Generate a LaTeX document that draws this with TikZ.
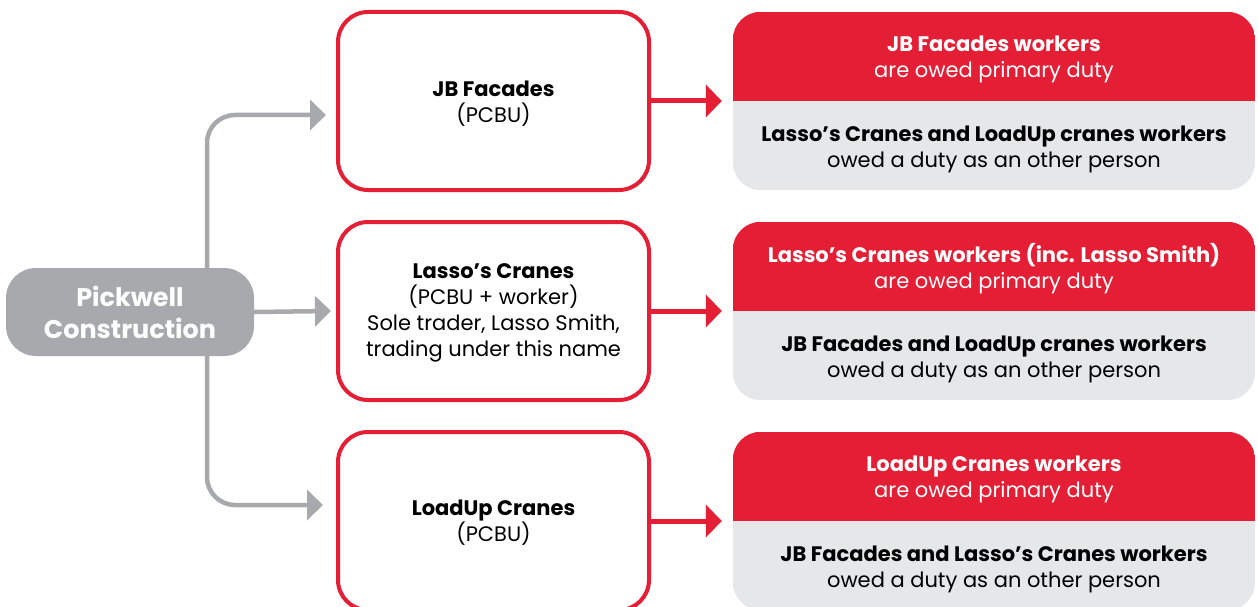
\documentclass[tikz,border=0pt]{standalone}
\usepackage{fontspec}
\setmainfont{Poppins}
\usetikzlibrary{arrows.meta}
\definecolor{cred}{HTML}{E41E35}
\definecolor{cgray}{HTML}{A7A9AC}
\definecolor{clight}{HTML}{E6E7E8}
\begin{document}
\begin{tikzpicture}[x=1pt,y=-1pt,
  pcbu/.style={draw=cred, line width=4pt, rounded corners=30pt, minimum width=311pt, minimum height=178pt, fill=white, align=center, inner sep=0pt, font=\fontsize{21}{26}\selectfont},
  duty/.style={minimum width=522pt, minimum height=178pt, inner sep=0pt},
  dtext/.style={align=center, inner sep=0pt, font=\fontsize{21}{26}\selectfont},
  garrow/.style={draw=cgray, line width=4.5pt, rounded corners=28pt, -{Triangle[length=16pt,width=30pt]}},
  rarrow/.style={draw=cred, line width=5pt, -{Triangle[length=16pt,width=32pt]}},
  ]
\useasboundingbox (0,0) rectangle (1258,607);
\clip (0,0) rectangle (1258,607);

% source node
\node[fill=cgray, rounded corners=30pt, minimum width=248pt, minimum height=88pt, inner sep=0pt, align=center, text=white, font=\fontsize{25.5}{32}\selectfont\bfseries] (pick) at (130,312) {Pickwell\\Construction};

% PCBU boxes
\node[pcbu] (jb) at (493.5,101) {};
\node[pcbu] (lasso) at (493.5,311) {};
\node[pcbu] (load) at (493.5,521) {};
\node[dtext] (jbt) at (493.5,104) {\textbf{JB Facades}\\(PCBU)};
\node[dtext] (lassot) at (493.5,313) {\textbf{Lasso’s Cranes}\\(PCBU + worker)\\Sole trader, Lasso Smith,\\trading under this name};
\node[dtext] (loadt) at (493.5,523) {\textbf{LoadUp Cranes}\\(PCBU)};

% duty boxes
\foreach \n/\y in {o1/101, o2/311, o3/521}{
  \node[duty] (\n) at (994,\y) {};
  \begin{scope}
    \clip[rounded corners=28pt] (\n.south west) rectangle (\n.north east);
    \fill[clight] (\n.south west) rectangle (\n.north east);
    \fill[cred] (\n.west) rectangle (\n.north east);
  \end{scope}
}
\node[dtext, text=white] (o1a) at (994,59) {\textbf{JB Facades workers}\\are owed primary duty};
\node[dtext] (o1b) at (994,149) {\textbf{Lasso’s Cranes and LoadUp cranes workers}\\owed a duty as an other person};
\node[dtext, text=white] (o2a) at (994,269) {\textbf{Lasso’s Cranes workers (inc. Lasso Smith)}\\are owed primary duty};
\node[dtext] (o2b) at (994,359) {\textbf{JB Facades and LoadUp cranes workers}\\owed a duty as an other person};
\node[dtext, text=white] (o3a) at (994,479) {\textbf{LoadUp Cranes workers}\\are owed primary duty};
\node[dtext] (o3b) at (994,569) {\textbf{JB Facades and Lasso’s Cranes workers}\\owed a duty as an other person};

% gray connectors
\coordinate (g1) at (326,115);
\coordinate (g2) at (331,311);
\coordinate (g3) at (323,505);
\draw[garrow] ([xshift=77pt]pick.north) |- (g1);
\draw[garrow] (pick.east) -- (g2);
\draw[garrow] ([xshift=77pt]pick.south) |- (g3);

% red connectors
\draw[rarrow] (jb.east) -- ([xshift=-11pt]o1.west);
\draw[rarrow] (lasso.east) -- ([xshift=-11pt]o2.west);
\draw[rarrow] (load.east) -- ([xshift=-11pt]o3.west);
\end{tikzpicture}
\end{document}
